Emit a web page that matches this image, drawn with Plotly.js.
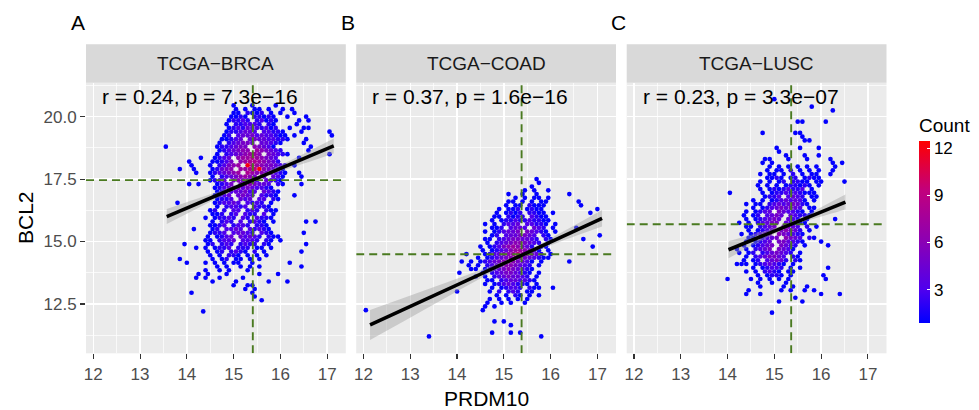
<!DOCTYPE html>
<html><head><meta charset="utf-8">
<script src="https://cdn.plot.ly/plotly-3.0.1.min.js"></script>
<style>html,body{margin:0;padding:0;background:#fff}#chart{width:979px;height:410px}</style>
</head><body><div id="chart"></div>
<script>
// ---------------- data ----------------
const panelNames = ["TCGA−BRCA", "TCGA−COAD", "TCGA−LUSC"];
const panelTags = ["A", "B", "C"];
const corrLabels = ["r = 0.24, p = 7.3e−16", "r = 0.37, p = 1.6e−16", "r = 0.23, p = 3.3e−07"];
const medianX = [15.41, 15.38, 15.36];
const medianY = [17.46, 14.49, 15.69];
const xTicks = [12, 13, 14, 15, 16, 17];
const yTicks = [12.5, 15.0, 17.5, 20.0];
const countTicks = [3, 6, 9, 12];

// hexbin cells: rows from top (step 0.15 in BCL2), columns step 0.1 in PRDM10,
// odd rows shifted half a column; "startCol:counts", '.' = empty, a=10 b=11 c=12
const hexRowStep = 0.15, hexColStep = 0.1;
const brcaTop = 20.75, brcaLeft = 13.5;
const brcaRows = [
"", "", "15:1 19:1 24:1", "15:1.1.11.1 25:1.1", "15:11.2112.1 25:1 28:1",
"14:1121.22121 26:1 30:1", "14:12232.23121 29:1.1", "13:1.223332.21 28:1",
"14:12324332312 27:1 30:11", "13:1223443.33221 29:1 35:1", "13:12.34453433211 28:1 36:1",
"12:11234.454433221 30:1", "12:1.234554.44321 30:1", "0:1 11:1223455.65431 31:1",
"12:1234566.765432 31:1", "11:1.23456776.54321 35:1", "8:1 11:1234.677876543 29:1",
"5:1 10:11235.678876542", "6:1 10:1.23567.c87655432.1", "3:1 6:1 10:12456.7789c65421",
"7:1 10:1234567.876654321 29:1", "10:1.23456765.4.431 29:1", "10:1234.565543.4321",
"5:1 7:1 11:1235.5665443.21 29:1", "11:1234554543321", "11:12.344533.4321",
"11:1234.4543.3221 28:1", "11:1223.434.33.21", "3:1 11:123343.3232.1",
"11:1.23323.3221", "10:12.2.33.232.211", "10:112.23.322.3.1",
"9:1 11:12232.32.3221", "10:1.232.3.2321.1 30:1 32:1", "10:1123.2332.221",
"6:1 10:12.3343.32321", "10:1223.34432.321 30:1", "9:1.1234.43432.211",
"9:11.2334.3332.21.1", "4:1 9:12.232.2322.21 30:1", "7:1 9:1.1223.222.11.1",
"9:1.12.2321.2.1 29:1", "10:1.1.221.1.1.1", "3:1 10:1.12.11.1.1",
"5:1 9:1.1.1.11..1 27:1", "11:1.1..1.1.1 29:1", "9:1..1.1...1",
"7:1 9:1 13:1 20:1 24:1", "7:1.1 12:1 17:1", "10:1 15:1 22:1 26:1",
"15:1 18:11", "17:1 19:1", "6:1 19:1", "19:1", "21:1", "", "", "8:1"
];
const coadTop = 17.5, coadLeft = 12.0;
const coadRows = [
"37:1", "37:1", "36:1", "34:1.1 39:1", "31:1 34:1..1 44:1",
"32:1.1.11.1", "31:11.1.1.11 46:1", "30:1.11.2111 46:1", "29:1.112.1211 50:1",
"28:1.1212.2211.1 48:1", "28:11.2122.3211", "27:1.12232232211",
"26:1.1.2334.33221.1", "27:112.3443.432.1 45:1", "26:1.123445.54321.1",
"27:12.3445543.21 50:1", "26:11.234554432.21 47:1", "26:1.2345665432.1",
"25:1.1235676542.11 49:1", "25:1.12346776531.1", "22:1 26:1234567976542.1",
"24:1.12345686543211", "21:1 23:1.123456765431.1 44:1", "22:1 24:1.2345665432.1",
"23:11 26:12345654321", "20:1 25:1.234554321.1", "24:1 26:1.23454432.1",
"26:11.23443321", "26:1.12343221.1", "27:1.12332.211 40:1",
"20:1 27:1.2.232.11", "28:1.1.21.1.1", "27:1.1.1.1.1", "26:1..1.1..1",
"26:1 28:1", "0:1 25:1", "", "", "28:1 30:1", "31:1", "", "27:1 31:1 33:1", "14:1 38:1"
];
const luscTop = 20.7, luscLeft = 14.0;
const luscRows = [
"10:1", "", "18:1", "22:1", "", "", "15:11 21:1", "", "", "7:1 14:11",
"16:1", "16:11", "", "10:1 15:1 19:1", "11:1", "12:1 16:1 19:1",
"8:11 13:1 17:1 22:1", "7:1 9:1 22:1 24:1", "9:1 11:1 13:1.1 17:1.1 23:1",
"8:1.1 11:1.2.1 17:1.1 22:1", "7:1 9:11.1.2.1.11 22:1", "8:1121.12.1211",
"7:1 9:1.12.2211.11 25:1", "6:1 8:1.1.122121.1", "7:1.12123223.1",
"0:1 7:1.1223232111", "8:1223.3432.11", "5:1 7:1.12343431.1",
"4:1 6:11.234345421", "5:1.123454543.11", "4:1.1234.543321.1",
"3:1 5:12.3454.43221", "4:1.123454.432.1 23:1", "2:1 4:1.23455.43211",
"4:11.2345.5543.2.1", "4:1.1234.56542.1", "3:1.12345.654321",
"4:11.2345.6543.21", "4:1.1234.554321 20:1", "3:1.12345.5432.1 21:1",
"2:1 4:1.2345.5431", "2:1 4:12.2345432.1", "4:1.2345543.21",
"3:1 5:12.34542.21", "2:11 4:1.1234321.1", "5:1.12332.1.1 21:1",
"4:1.1.2321.11", "6:1.1221.1 20:1", "0:1 5:1.1.1.1.1 21:1",
"6:1 9:1 12:1", "7:1 12:1.1 17:1", "4:1 11:1 13:1 16:1.1",
"4:1 7:1 20:1 24:1", "14:1", "11:1 16:1", "", "", "9:1"
];

// linear fits with 95% confidence band
const brcaFitX = [13.57, 14.2, 14.8, 15.35, 15.9, 16.5, 17.14];
const brcaFitY = [16.00, 16.50, 16.98, 17.41, 17.85, 18.32, 18.83];
const brcaFitLo = [15.70, 16.30, 16.87, 17.34, 17.74, 18.12, 18.53];
const brcaFitHi = [16.30, 16.70, 17.09, 17.48, 17.96, 18.52, 19.13];
const coadFitX = [12.14, 12.9, 13.7, 14.5, 15.35, 16.2, 17.10];
const coadFitY = [11.66, 12.31, 13.00, 13.69, 14.42, 15.16, 15.93];
const coadFitLo = [11.06, 11.85, 12.69, 13.52, 14.35, 14.99, 15.60];
const coadFitHi = [12.26, 12.77, 13.31, 13.86, 14.49, 15.33, 16.26];
const luscFitX = [14.02, 14.5, 14.95, 15.35, 15.75, 16.15, 16.52];
const luscFitY = [14.67, 15.04, 15.38, 15.69, 15.99, 16.30, 16.58];
const luscFitLo = [14.33, 14.81, 15.25, 15.61, 15.86, 16.08, 16.28];
const luscFitHi = [15.01, 15.27, 15.51, 15.77, 16.12, 16.52, 16.88];

// ---------------- build ----------------
function hexCells(rows, top, left) {
  const xs = [], ys = [], cs = [];
  rows.forEach((row, r) => {
    const y = top - r * hexRowStep;
    const off = (r % 2) ? hexColStep / 2 : 0;
    row.split(" ").filter(Boolean).forEach(tok => {
      const [s, str] = tok.split(":");
      const c0 = parseInt(s, 10);
      for (let i = 0; i < str.length; i++) {
        if (str[i] === ".") continue;
        xs.push(left + (c0 + i) * hexColStep + off);
        ys.push(y);
        cs.push(parseInt(str[i], 16));
      }
    });
  });
  return {xs, ys, cs};
}

const F = "Liberation Sans, Arial, Helvetica, sans-serif";
const W = 979, H = 410;
const xRange = [11.844, 17.398];
const yRange = [10.525, 21.36];
const panelPx = [[86, 345.8], [356.2, 616], [626.7, 886.5]];
const plotTopPx = 82.7, plotBotPx = 353.3, stripTopPx = 44.3;

const hexData = [hexCells(brcaRows, brcaTop, brcaLeft), hexCells(coadRows, coadTop, coadLeft), hexCells(luscRows, luscTop, luscLeft)];
const fits = [
  [brcaFitX, brcaFitY, brcaFitLo, brcaFitHi],
  [coadFitX, coadFitY, coadFitLo, coadFitHi],
  [luscFitX, luscFitY, luscFitLo, luscFitHi]
];

const traces = [];
const layout = {
  width: W, height: H, margin: {l: 0, r: 0, t: 0, b: 0},
  paper_bgcolor: "#FFFFFF", plot_bgcolor: "#EBEBEB", showlegend: false,
  font: {family: F, color: "#000000"},
  coloraxis: {
    cmin: 0.88, cmax: 12.45,
    colorscale: [[0, "#0000FF"], [0.18, "#4E00EE"], [0.45, "#8C00B4"], [0.73, "#C2007C"], [1, "#FF0000"]],
    colorbar: {
      thickness: 11, len: 208, lenmode: "pixels",
      x: 919 / W, xanchor: "left", y: 1 - 115 / H, yanchor: "top",
      outlinewidth: 0, xpad: 0, ypad: 0,
      tickmode: "array", tickvals: countTicks, ticks: "inside", ticklen: 3, tickcolor: "#FFFFFF", tickwidth: 1,
      tickfont: {size: 17, color: "#000000", family: F},
      title: {text: "Count", side: "top", font: {size: 19, color: "#000000", family: F}}
    }
  },
  annotations: [], shapes: []
};

const yDomain = [1 - plotBotPx / H, 1 - plotTopPx / H];
for (let k = 0; k < 3; k++) {
  const sx = k === 0 ? "" : String(k + 1);
  const xa = "x" + sx, ya = "y" + sx;
  const dom = [panelPx[k][0] / W, panelPx[k][1] / W];
  layout["xaxis" + sx] = {
    domain: dom, range: xRange, anchor: ya, tickmode: "array", tickvals: xTicks,
    ticks: "outside", ticklen: 5, tickwidth: 1.1, tickcolor: "#333333",
    tickfont: {size: 17, color: "#4D4D4D", family: F},
    showgrid: true, gridcolor: "#FFFFFF", gridwidth: 1.4, zeroline: false, showline: false,
    minor: {tickmode: "linear", tick0: 11.5, dtick: 0.5, showgrid: true, gridcolor: "#FFFFFF", gridwidth: 0.7, ticks: ""},
    fixedrange: true
  };
  layout["yaxis" + sx] = {
    domain: yDomain, range: yRange, anchor: xa, tickmode: "array", tickvals: yTicks, tickformat: ".1f",
    ticks: k === 0 ? "outside" : "", ticklen: 5, tickwidth: 1.1, tickcolor: "#333333",
    showticklabels: k === 0, tickfont: {size: 17, color: "#4D4D4D", family: F},
    showgrid: true, gridcolor: "#FFFFFF", gridwidth: 1.4, zeroline: false, showline: false,
    minor: {tickmode: "linear", tick0: 11.25, dtick: 1.25, showgrid: true, gridcolor: "#FFFFFF", gridwidth: 0.7, ticks: ""},
    fixedrange: true
  };
  const h = hexData[k];
  traces.push({type: "scatter", mode: "markers", x: h.xs, y: h.ys, xaxis: xa, yaxis: ya,
    marker: {size: 4.7, color: h.cs, coloraxis: "coloraxis", line: {width: 0}}, hoverinfo: "skip"});
  const dash = {color: "#4A7A20", width: 1.9, dash: "8px,5px"};
  traces.push({type: "scatter", mode: "lines", x: [medianX[k], medianX[k]], y: yRange, xaxis: xa, yaxis: ya, line: dash, hoverinfo: "skip"});
  traces.push({type: "scatter", mode: "lines", x: xRange, y: [medianY[k], medianY[k]], xaxis: xa, yaxis: ya, line: dash, hoverinfo: "skip"});
  const [fx, fy, flo, fhi] = fits[k];
  traces.push({type: "scatter", mode: "lines", x: fx, y: flo, xaxis: xa, yaxis: ya, line: {width: 0, shape: "spline"}, hoverinfo: "skip"});
  traces.push({type: "scatter", mode: "lines", x: fx, y: fhi, xaxis: xa, yaxis: ya, line: {width: 0, shape: "spline"},
    fill: "tonexty", fillcolor: "rgba(153,153,153,0.4)", hoverinfo: "skip"});
  traces.push({type: "scatter", mode: "lines", x: fx, y: fy, xaxis: xa, yaxis: ya, line: {color: "#000000", width: 3.6}, hoverinfo: "skip"});

  // strip
  layout.shapes.push({type: "rect", xref: "paper", yref: "paper", x0: dom[0], x1: dom[1],
    y0: 1 - plotTopPx / H, y1: 1 - stripTopPx / H, fillcolor: "#D9D9D9", line: {width: 0}, layer: "below"});
  layout.annotations.push({xref: "paper", yref: "paper", x: (dom[0] + dom[1]) / 2, y: 1 - ((plotTopPx + stripTopPx) / 2) / H,
    text: panelNames[k], showarrow: false, xanchor: "center", yanchor: "middle", font: {size: 19, color: "#1A1A1A", family: F}});
  layout.annotations.push({xref: xa, yref: ya, x: 12.14, y: 20.8, text: corrLabels[k], showarrow: false,
    xanchor: "left", yanchor: "middle", font: {size: 21, color: "#000000", family: F}});
  layout.annotations.push({xref: "paper", yref: "paper", x: (panelPx[k][0] - 8) / W, y: 1 - 22.7 / H, text: panelTags[k],
    showarrow: false, xanchor: "center", yanchor: "middle", font: {size: 21, color: "#000000", family: F}});
}
layout.annotations.push({xref: "paper", yref: "paper", x: 486 / W, y: 1 - 398 / H, text: "PRDM10", showarrow: false,
  xanchor: "center", yanchor: "middle", font: {size: 21, color: "#000000", family: F}});
layout.annotations.push({xref: "paper", yref: "paper", x: 25 / W, y: 1 - 218 / H, text: "BCL2", textangle: -90, showarrow: false,
  xanchor: "center", yanchor: "middle", font: {size: 21, color: "#000000", family: F}});

Plotly.newPlot("chart", traces, layout, {staticPlot: true, displayModeBar: false});
</script>
</body></html>
